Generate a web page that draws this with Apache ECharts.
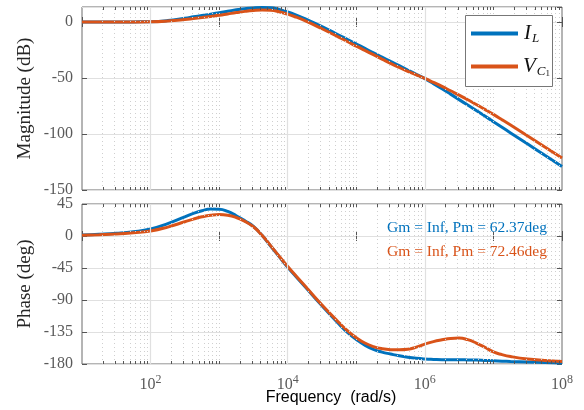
<!DOCTYPE html>
<html>
<head>
<meta charset="utf-8">
<script src="https://cdn.jsdelivr.net/npm/echarts@6/dist/echarts.min.js"></script>
<style>
  html, body { margin: 0; padding: 0; background: #fff; }
  #chart { width: 584px; height: 410px; }
</style>
</head>
<body>
<div id="chart"></div>
<script>
// Frequency samples (rad/s)
const freq = [10, 17.8, 31.6, 56.2, 100, 178, 316, 422, 562, 750, 1000, 1334,
  1778, 2371, 3162, 4217, 5623, 7499, 1e4, 13335, 17783, 31623, 56234, 74989,
  1e5, 133352, 177828, 237137, 316228, 421697, 562341, 749894, 1e6, 1333521,
  1778279, 2371374, 3162278, 4216965, 5623413, 7498942, 1e7, 13335214,
  17782794, 31622777, 56234133, 1e8];

// Magnitude (dB)
const magIL = [0, 0, 0, 0.1, 0.3, 1.3, 3.4, 4.6, 5.8, 7.0, 8.3, 9.6,
  10.9, 11.9, 12.6, 12.9, 12.7, 11.3, 9.0, 6.2, 3.0, -4.0, -11.8, -15.7,
  -19.6, -23.6, -27.6, -31.4, -35.2, -39.0, -42.9, -46.7, -50.6, -55.0,
  -59.6, -64.4, -69.3, -74.2, -79.1, -84.0, -89, -94,
  -99, -109, -119, -129];
const magVC1 = [0, 0, 0, 0.05, 0.2, 0.9, 2.2, 3.1, 4.0, 5.0, 6.0, 7.2,
  8.4, 9.5, 10.3, 10.7, 10.4, 9.1, 7.0, 4.3, 1.2, -6.0, -13.7, -17.6,
  -21.6, -25.4, -29.2, -33.1, -37, -40.6, -44, -47.2, -50.4, -53.9,
  -57.5, -61.4, -65.3, -69.4, -73.6, -78, -82.5, -87.2,
  -92, -101.8, -111.6, -121.4];

// Phase (deg)
const phIL = [1.3, 2.3, 3.7, 6, 10, 17.5, 27, 31.8, 35.5, 37.8, 37.6, 34.5,
  28.5, 21.5, 13.5, 1, -14, -29, -44, -57.5, -71, -98, -124, -136,
  -145.5, -153.5, -159.5, -163.3, -166, -168.5, -170.5, -172, -173, -173.6,
  -174, -174, -174, -174.2, -174.5, -175, -175.5, -176,
  -176.5, -177.3, -178, -178.5];
const phVC1 = [1.2, 1.9, 2.8, 4.5, 7, 12.5, 20, 23.8, 27, 29.3, 30.3, 29.3,
  26, 20.5, 13, 1, -13.5, -28.5, -43, -56.5, -70, -97, -122, -133.5,
  -143, -150.5, -155.5, -158.5, -159.8, -160, -159.3, -156.3, -152, -148.5,
  -146, -144, -143.5, -145.8, -150.5, -156.5, -163, -166.8,
  -169.5, -173, -175, -176.5];

// Axis ticks
const magTicks = { min: -150, max: 13.4, step: 50, labelMax: false };
const phTicks = { min: -180, max: 45, step: 45, labelMax: true };
const majorDecades = [100, 1e4, 1e6];

const BLUE = '#0072BD';
const ORANGE = '#D95319';
const SERIF = 'Liberation Serif';

// minor positions: every 2..9 x 10^n plus the odd decades
const minorPos = [];
for (let e = 1; e < 8; e++) {
  for (let m = 1; m <= 9; m++) {
    if (m === 1 && (e % 2 === 0 || e === 1)) continue;
    minorPos.push(m * Math.pow(10, e));
  }
}

function gridMarks() {
  return {
    silent: true,
    symbol: 'none',
    label: { show: false },
    animation: false,
    data: minorPos.map(v => ({ xAxis: v, lineStyle: { type: [1, 3], color: '#cfcfcf', width: 1 } }))
      .concat(majorDecades.map(v => ({ xAxis: v, lineStyle: { type: 'solid', color: '#e0e0e0', width: 1.2 } })))
  };
}

// short inward ticks on the top and bottom edges at the minor positions
function minorTickSeries(xi, yi, yv) {
  return {
    type: 'custom', xAxisIndex: xi, yAxisIndex: yi, silent: true, z: 6,
    data: minorPos.map(v => [v, yv]),
    encode: { x: 0, y: 1 },
    renderItem: (params, api) => {
      const x = Math.round(api.coord([api.value(0), yv])[0]) + 0.5;
      const cs = params.coordSys;
      const st = { stroke: '#555', lineWidth: 1 };
      return {
        type: 'group', children: [
          { type: 'line', shape: { x1: x, y1: cs.y, x2: x, y2: cs.y + 3 }, style: st },
          { type: 'line', shape: { x1: x, y1: cs.y + cs.height, x2: x, y2: cs.y + cs.height - 3 }, style: st }
        ]
      };
    }
  };
}

function xAx(gridIndex, position, showLabel) {
  return {
    type: 'log', logBase: 10, min: 10, max: 1e8, gridIndex, position,
    axisLine: { show: false },
    axisTick: { show: true, inside: true, length: 5, lineStyle: { color: '#555' } },
    splitLine: { show: false },
    axisLabel: {
      show: showLabel, margin: 10, color: '#5a5a5a',
      formatter: v => {
        const e = Math.round(Math.log10(v));
        if (e % 2 !== 0) return '';
        return '{b|10}{s|' + e + '}';
      },
      rich: {
        b: { fontFamily: SERIF, fontSize: 16, color: '#5a5a5a' },
        s: { fontFamily: SERIF, fontSize: 12, color: '#5a5a5a', verticalAlign: 'top', padding: [0, 0, 9, 0] }
      }
    }
  };
}

function yAx(gridIndex, position, t, showLabel) {
  return {
    type: 'value', gridIndex, position, min: t.min, max: t.max, interval: t.step,
    axisLine: { show: false },
    axisTick: { show: true, inside: true, length: 5, lineStyle: { color: '#555' } },
    splitLine: { show: showLabel, lineStyle: { color: '#e0e0e0', width: 1.2 } },
    axisLabel: {
      show: showLabel, showMaxLabel: t.labelMax, margin: 9, color: '#5a5a5a',
      fontFamily: SERIF, fontSize: 16
    }
  };
}

function line(name, xi, yi, ys, color, withGrid) {
  const s = {
    name, type: 'line', xAxisIndex: xi, yAxisIndex: yi,
    data: freq.map((f, i) => [f, ys[i]]),
    smooth: 0.5, showSymbol: false, symbol: 'none',
    lineStyle: { color, width: 3, type: 'solid' }, itemStyle: { color },
    animation: false, z: 3
  };
  if (withGrid) s.markLine = gridMarks();
  return s;
}

// legend key drawn as a boxed pair of line samples with italic labels
const legendRich = {
  v: { fontFamily: SERIF, fontStyle: 'italic', fontSize: 21, fill: '#111' },
  s: { fontFamily: SERIF, fontStyle: 'italic', fontSize: 13, fill: '#111', verticalAlign: 'bottom', padding: [12, 0, 0, 1] },
  ss: { fontFamily: SERIF, fontSize: 9, fill: '#111', verticalAlign: 'bottom', padding: [16, 0, 0, 0] }
};

const chart = echarts.init(document.getElementById('chart'), null, { renderer: 'canvas' });
chart.setOption({
  backgroundColor: '#fff',
  animation: false,
  grid: [
    { left: 82, top: 7, width: 480, height: 183, show: true, borderColor: '#6a6a6a', borderWidth: 1, backgroundColor: 'transparent' },
    { left: 82, top: 204, width: 480, height: 160, show: true, borderColor: '#6a6a6a', borderWidth: 1, backgroundColor: 'transparent' }
  ],
  xAxis: [
    xAx(0, 'bottom', false), xAx(0, 'top', false),
    xAx(1, 'bottom', true), xAx(1, 'top', false)
  ],
  yAxis: [
    yAx(0, 'left', magTicks, true), yAx(0, 'right', magTicks, false),
    yAx(1, 'left', phTicks, true), yAx(1, 'right', phTicks, false)
  ],
  series: [
    line('I_L', 0, 0, magIL, BLUE, true),
    line('V_C1', 0, 0, magVC1, ORANGE, false),
    line('I_L', 2, 2, phIL, BLUE, true),
    line('V_C1', 2, 2, phVC1, ORANGE, false),
    minorTickSeries(0, 0, 0),
    minorTickSeries(2, 2, 0)
  ],
  graphic: [
    { type: 'text', z: 100, rotation: Math.PI / 2, x: 25, y: 98.5,
      style: { text: 'Magnitude (dB)', font: '19px "Liberation Serif"', fill: '#262626', align: 'center', verticalAlign: 'middle' } },
    { type: 'text', z: 100, rotation: Math.PI / 2, x: 25, y: 284,
      style: { text: 'Phase (deg)', font: '19px "Liberation Serif"', fill: '#262626', align: 'center', verticalAlign: 'middle' } },
    { type: 'text', z: 100, x: 331, y: 398,
      style: { text: 'Frequency  (rad/s)', font: '16px "Liberation Sans"', fill: '#000', align: 'center', verticalAlign: 'middle' } },
    { type: 'text', z: 100, x: 547, y: 228,
      style: { text: 'Gm = Inf, Pm = 62.37deg', font: '15.5px "Liberation Serif"', fill: BLUE, align: 'right', verticalAlign: 'middle' } },
    { type: 'text', z: 100, x: 547, y: 252,
      style: { text: 'Gm = Inf, Pm = 72.46deg', font: '15.5px "Liberation Serif"', fill: ORANGE, align: 'right', verticalAlign: 'middle' } },
    { type: 'rect', z: 100, shape: { x: 465.5, y: 15.5, width: 87, height: 71 },
      style: { fill: '#fff', stroke: '#777', lineWidth: 1 } },
    { type: 'line', z: 101, shape: { x1: 471, y1: 33.5, x2: 518, y2: 33.5 },
      style: { stroke: BLUE, lineWidth: 4 } },
    { type: 'line', z: 101, shape: { x1: 471, y1: 66.5, x2: 518, y2: 66.5 },
      style: { stroke: ORANGE, lineWidth: 4 } },
    { type: 'text', z: 101, x: 524, y: 33,
      style: { text: '{v|I}{s|L}', rich: legendRich, verticalAlign: 'middle' } },
    { type: 'text', z: 101, x: 523, y: 66,
      style: { text: '{v|V}{s|C}{ss|1}', rich: legendRich, verticalAlign: 'middle' } }
  ]
});
</script>
</body>
</html>
